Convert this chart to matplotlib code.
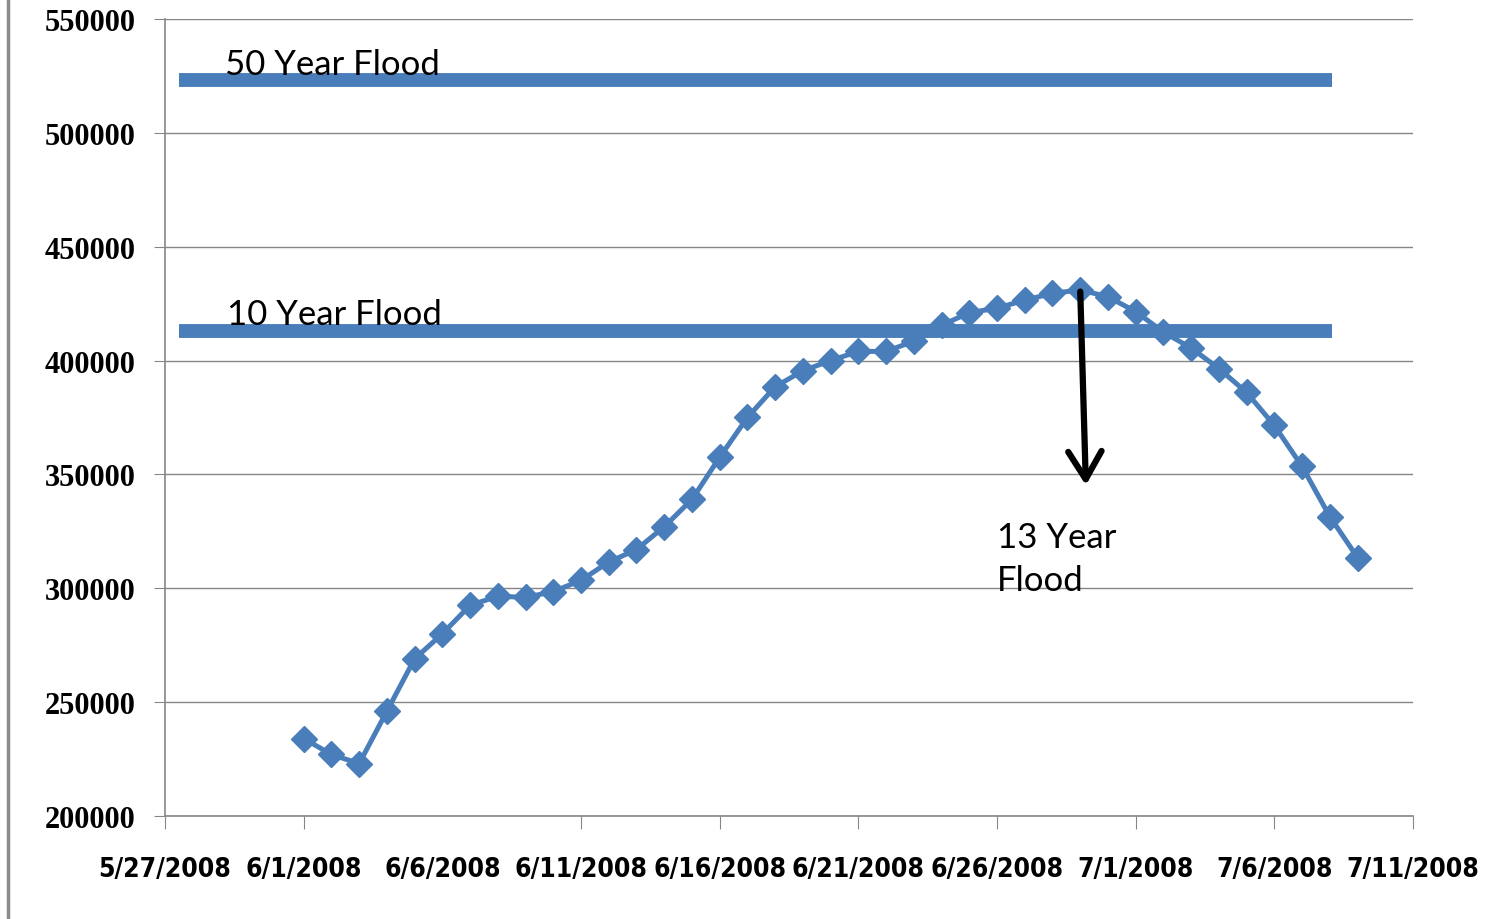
import matplotlib.pyplot as plt
from matplotlib.lines import Line2D
import pandas as pd

# daily flow readings, 6/1/2008 - 7/9/2008
dates = pd.date_range("2008-06-01", "2008-07-09", freq="D")
flow = [234000, 227000, 223000, 246000, 269000, 280000, 292500, 296500, 296000, 298500,
        303500, 311500, 317000, 327000, 339000, 357500, 375000, 388500, 395500, 400000,
        404000, 404000, 408500, 415500, 421000, 423000, 426500, 429500, 431000, 428000,
        421500, 412500, 405500, 396500, 386000, 371500, 353500, 331500, 313500]

flood_50 = 523000
flood_10 = 413000
flood_start = pd.Timestamp("2008-05-27 12:00")
flood_end = pd.Timestamp("2008-07-08 02:00")

tick_dates = pd.date_range("2008-05-27", "2008-07-11", freq="5D")
tick_labels = ["5/27/2008", "6/1/2008", "6/6/2008", "6/11/2008", "6/16/2008",
               "6/21/2008", "6/26/2008", "7/1/2008", "7/6/2008", "7/11/2008"]

blue = "#4a7ebb"
label_font = ["Lato", "DejaVu Sans"]

fig = plt.figure(figsize=(15.03, 9.2), dpi=100)
ax = fig.add_axes([0.1098, 0.112, 0.8303, 0.8663])

ax.plot([flood_start, flood_end], [flood_50, flood_50], color=blue, lw=10, solid_capstyle="butt")
ax.plot([flood_start, flood_end], [flood_10, flood_10], color=blue, lw=10, solid_capstyle="butt")
ax.plot(dates, flow, color=blue, lw=3.6, marker="D", markersize=13)

ax.text(pd.Timestamp("2008-05-29 04:00"), flood_50 + 3000, "50 Year Flood",
        fontsize=25, family=label_font, va="baseline", ha="left")
ax.text(pd.Timestamp("2008-05-29 06:00"), flood_10 + 3000, "10 Year Flood",
        fontsize=25, family=label_font, va="baseline", ha="left")
ax.text(pd.Timestamp("2008-06-26 00:00"), 313000, "13 Year\nFlood",
        fontsize=25, family=label_font, va="center", ha="left", linespacing=1.45)

ax.annotate("", xy=(pd.Timestamp("2008-06-29 05:00"), 344000),
            xytext=(pd.Timestamp("2008-06-29 00:00"), 431500),
            arrowprops=dict(arrowstyle="->,head_length=2.0,head_width=1.2",
                            color="black", lw=4.5))

ax.set_xlim(tick_dates[0], tick_dates[-1])
ax.set_ylim(200000, 550000)
ax.set_yticks(range(200000, 550001, 50000))
ax.set_xticks(tick_dates)
ax.set_xticklabels(tick_labels)
ax.yaxis.grid(True, color="#868686", lw=1)
ax.set_axisbelow(True)

for s in ["top", "right"]:
    ax.spines[s].set_visible(False)
for s in ["left", "bottom"]:
    ax.spines[s].set_color("#868686")
    ax.spines[s].set_linewidth(1.2)

ax.tick_params(axis="x", length=9, color="#868686", pad=20, labelsize=19)
ax.tick_params(axis="y", length=8, color="#868686", pad=13, labelsize=22)
for lab in ax.get_xticklabels():
    lab.set_family("DejaVu Sans")
    lab.set_stretch("condensed")
    lab.set_weight("bold")
for lab in ax.get_yticklabels():
    lab.set_family(["Liberation Serif", "DejaVu Serif"])
    lab.set_weight("bold")
ax.xaxis.get_major_ticks()[2].tick1line.set_visible(False)

# gray frame edge on the left
fig.add_artist(Line2D([0.0056, 0.0056], [0, 1], transform=fig.transFigure,
                      color="#8c8c8c", lw=2.5))

fig.savefig("out.png", dpi=100)
